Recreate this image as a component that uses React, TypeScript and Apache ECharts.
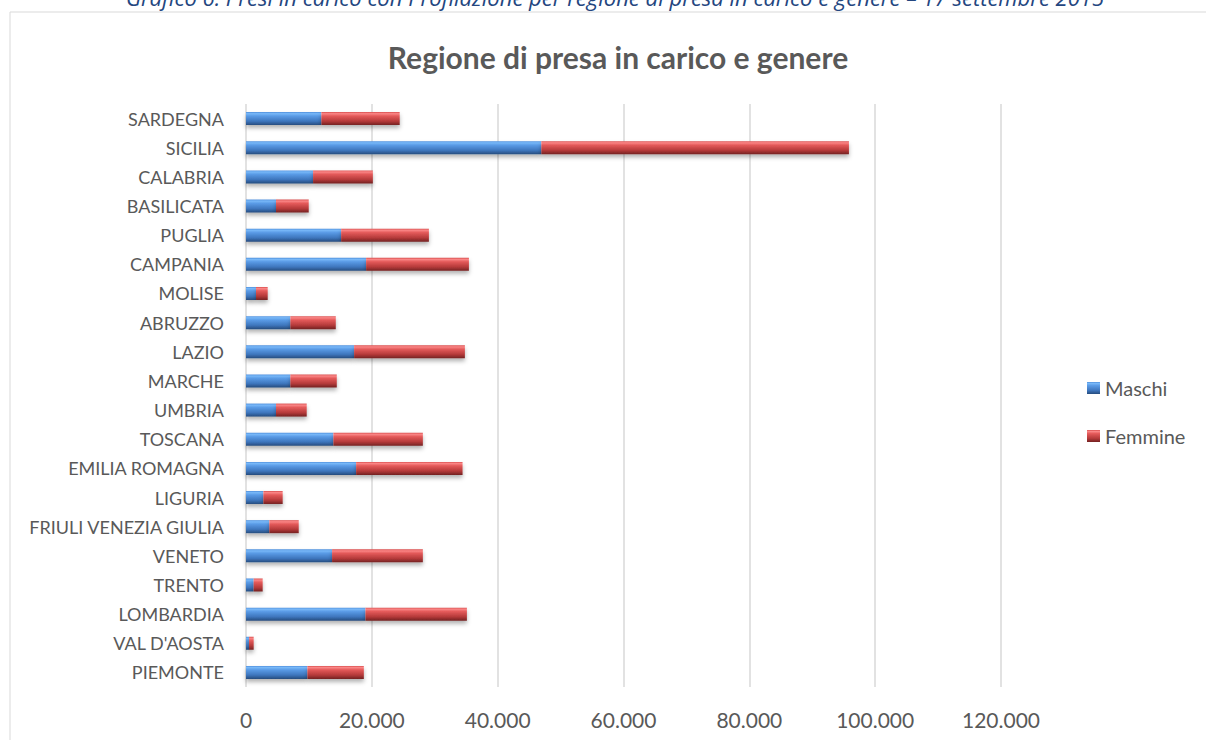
import React, { useEffect, useRef } from "react";
import * as echarts from "echarts";

const categories = [
  "PIEMONTE",
  "VAL D'AOSTA",
  "LOMBARDIA",
  "TRENTO",
  "VENETO",
  "FRIULI VENEZIA GIULIA",
  "LIGURIA",
  "EMILIA ROMAGNA",
  "TOSCANA",
  "UMBRIA",
  "MARCHE",
  "LAZIO",
  "ABRUZZO",
  "MOLISE",
  "CAMPANIA",
  "PUGLIA",
  "BASILICATA",
  "CALABRIA",
  "SICILIA",
  "SARDEGNA",
];
const maschi = [9760, 480, 18990, 1220, 13680, 3710, 2760, 17500, 13890, 4770, 7050, 17180, 7050, 1590, 19090, 15120, 4770, 10660, 46940, 11980];
const femmine = [8970, 740, 16120, 1430, 14430, 4670, 3070, 16920, 14220, 4880, 7380, 17610, 7220, 1860, 16340, 13950, 5200, 9500, 48890, 12450];
const seriesNames = ["Maschi", "Femmine"];
const chartTitle = "Regione di presa in carico e genere";
const caption =
  "Grafico 6: Presi in carico con Profilazione per regione di presa in carico e genere \u2013 17 settembre 2015";

const fmt = (v: number) => {
  const s = String(Math.round(v));
  return s.replace(/\B(?=(\d{3})+(?!\d))/g, ".");
};

const blueGrad = new echarts.graphic.LinearGradient(0, 0, 0, 1, [
  { offset: 0, color: "#4f8fdc" },
  { offset: 0.12, color: "#78b8f8" },
  { offset: 0.3, color: "#5a9be6" },
  { offset: 0.7, color: "#3e76bd" },
  { offset: 1, color: "#264c7e" },
]);
const redGrad = new echarts.graphic.LinearGradient(0, 0, 0, 1, [
  { offset: 0, color: "#d84e4e" },
  { offset: 0.12, color: "#fa8686" },
  { offset: 0.3, color: "#e45a5a" },
  { offset: 0.7, color: "#b53a3a" },
  { offset: 1, color: "#742222" },
]);

export default function App() {
  const ref = useRef<HTMLDivElement>(null);
  useEffect(() => {
    document.body.style.margin = "0";
    const chart = echarts.init(ref.current!, undefined, { renderer: "svg" });
    chart.setOption({
      animation: false,
      backgroundColor: "#ffffff",
      textStyle: { fontFamily: "Lato" },
      graphic: [
        {
          type: "rect",
          shape: { x: 10, y: 12, width: 1300, height: 800 },
          style: { fill: "none", stroke: "#d9d9d9", lineWidth: 1 },
          silent: true,
        },
        {
          type: "text",
          x: 615,
          y: -3,
          style: {
            text: caption,
            fill: "#24467f",
            font: "italic 22px 'Open Sans'",
            textAlign: "center",
            textVerticalAlign: "middle",
          },
        },
        {
          type: "text",
          x: 618,
          y: 57,
          style: {
            text: chartTitle,
            fill: "#595959",
            font: "bold 30px Lato",
            textAlign: "center",
            textVerticalAlign: "middle",
          },
        },
      ],
      legend: {
        orient: "vertical",
        left: 1082,
        top: 373,
        itemWidth: 13,
        itemHeight: 12,
        itemGap: 28,
        icon: "rect",
        data: seriesNames,
        textStyle: { color: "#595959", fontSize: 20, fontFamily: "Lato" },
      },
      grid: { left: 246, right: 205, top: 104, bottom: 53, containLabel: false },
      xAxis: {
        type: "value",
        min: 0,
        max: 120000,
        interval: 20000,
        axisLine: { show: false },
        axisTick: { show: false },
        splitLine: { show: true, lineStyle: { color: "#d9d9d9", width: 1.5 } },
        axisLabel: {
          color: "#595959",
          fontSize: 21,
          fontFamily: "Lato",
          margin: 22,
          formatter: (v: number) => fmt(v),
        },
      },
      yAxis: {
        type: "category",
        data: categories,
        axisLine: { show: false },
        axisTick: { show: false },
        axisLabel: { color: "#595959", fontSize: 18, fontFamily: "Lato", margin: 22 },
      },
      series: [
        {
          name: seriesNames[0],
          type: "bar",
          stack: "tot",
          barWidth: 13,
          data: maschi,
          itemStyle: {
            color: blueGrad,
            shadowColor: "rgba(0,0,0,0.3)",
            shadowBlur: 4,
            shadowOffsetY: 3,
          },
        },
        {
          name: seriesNames[1],
          type: "bar",
          stack: "tot",
          barWidth: 13,
          data: femmine,
          itemStyle: {
            color: redGrad,
            shadowColor: "rgba(0,0,0,0.3)",
            shadowBlur: 4,
            shadowOffsetY: 3,
          },
        },
      ],
    });
    return () => chart.dispose();
  }, []);
  return <div ref={ref} style={{ width: 1206, height: 740 }} />;
}
